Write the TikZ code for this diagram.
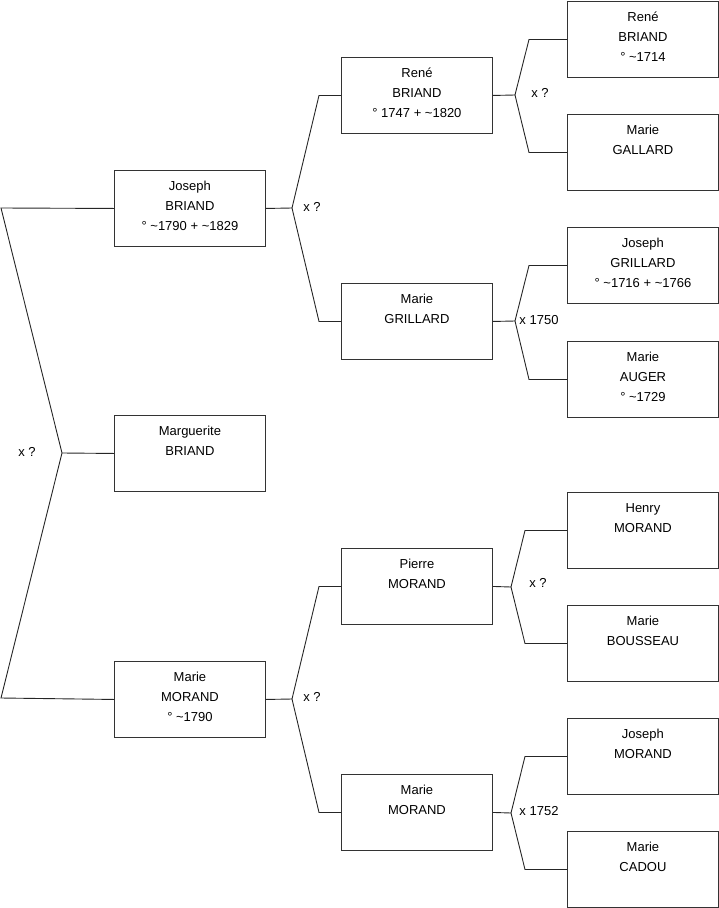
\documentclass[tikz,border=0pt]{standalone}
\usepackage{fontspec}
\setmainfont{Liberation Sans}
\newcommand\ptxt[1]{\parbox[c][63pt][t]{140pt}{\centering\fontsize{13}{20}\selectfont\strut #1}}
\begin{document}
\begin{tikzpicture}[x=1pt,y=-1pt,
  person/.style={draw=black!80, line width=0.9pt, minimum width=151pt, minimum height=76pt,
    inner xsep=5.5pt, inner ysep=6.5pt, anchor=north west, fill=white},
  link/.style={draw=black!85, line width=0.9pt},
  mlabel/.style={font=\fontsize{13}{16}\selectfont, inner sep=0pt}]
\useasboundingbox (0,0) rectangle (719,908);
% generation 1
\node[person] (J)   at (114,170) {\ptxt{Joseph\\BRIAND\\° \textasciitilde1790 + \textasciitilde1829}};
\node[person] (Mg)  at (114,415) {\ptxt{Marguerite\\BRIAND}};
\node[person] (MM1) at (114,661) {\ptxt{Marie\\MORAND\\° \textasciitilde1790}};
% generation 2
\node[person] (R2)  at (341,57)  {\ptxt{René\\BRIAND\\° 1747 + \textasciitilde1820}};
\node[person] (MG2) at (341,283) {\ptxt{Marie\\GRILLARD}};
\node[person] (P2)  at (341,548) {\ptxt{Pierre\\MORAND}};
\node[person] (MM2) at (341,774) {\ptxt{Marie\\MORAND}};
% generation 3
\node[person] (R3)  at (567,1)   {\ptxt{René\\BRIAND\\° \textasciitilde1714}};
\node[person] (GA3) at (567,114) {\ptxt{Marie\\GALLARD}};
\node[person] (JG3) at (567,227) {\ptxt{Joseph\\GRILLARD\\° \textasciitilde1716 + \textasciitilde1766}};
\node[person] (AU3) at (567,341) {\ptxt{Marie\\AUGER\\° \textasciitilde1729}};
\node[person] (HM3) at (567,492) {\ptxt{Henry\\MORAND}};
\node[person] (BO3) at (567,605) {\ptxt{Marie\\BOUSSEAU}};
\node[person] (JM3) at (567,718) {\ptxt{Joseph\\MORAND}};
\node[person] (CA3) at (567,831) {\ptxt{Marie\\CADOU}};
% fork points
\coordinate (f0) at (62,453);
\coordinate (lt) at (1,208);
\coordinate (lb) at (1,698);
\coordinate (fJ) at (292,208);
\coordinate (fM) at (292,699);
\coordinate (fR) at (515,95);
\coordinate (fG) at (515,321);
\coordinate (fP) at (511,587);
\coordinate (fN) at (511,813);
% connectors
\draw[link] (J.west) -- (lt) -- (f0) -- (lb) -- (MM1.west);
\draw[link] (f0) -- (Mg.west);
\draw[link] (J.east) -- (fJ) -- ([xshift=-22pt]R2.west) -- (R2.west);
\draw[link] (fJ) -- ([xshift=-22pt]MG2.west) -- (MG2.west);
\draw[link] (MM1.east) -- (fM) -- ([xshift=-22pt]P2.west) -- (P2.west);
\draw[link] (fM) -- ([xshift=-22pt]MM2.west) -- (MM2.west);
\draw[link] (R2.east) -- (fR) -- ([xshift=-38pt]R3.west) -- (R3.west);
\draw[link] (fR) -- ([xshift=-38pt]GA3.west) -- (GA3.west);
\draw[link] (MG2.east) -- (fG) -- ([xshift=-38pt]JG3.west) -- (JG3.west);
\draw[link] (fG) -- ([xshift=-38pt]AU3.west) -- (AU3.west);
\draw[link] (P2.east) -- (fP) -- ([xshift=-42pt]HM3.west) -- (HM3.west);
\draw[link] (fP) -- ([xshift=-42pt]BO3.west) -- (BO3.west);
\draw[link] (MM2.east) -- (fN) -- ([xshift=-42pt]JM3.west) -- (JM3.west);
\draw[link] (fN) -- ([xshift=-42pt]CA3.west) -- (CA3.west);
% marriage labels
\node[mlabel] (m0) at (27,452) {x ?};
\node[mlabel] (m1) at (312,207) {x ?};
\node[mlabel] (m2) at (312,697) {x ?};
\node[mlabel] (m3) at (540,93) {x ?};
\node[mlabel] (m4) at (539,320) {x 1750};
\node[mlabel] (m5) at (538,583) {x ?};
\node[mlabel] (m6) at (539,811) {x 1752};
\end{tikzpicture}
\end{document}
